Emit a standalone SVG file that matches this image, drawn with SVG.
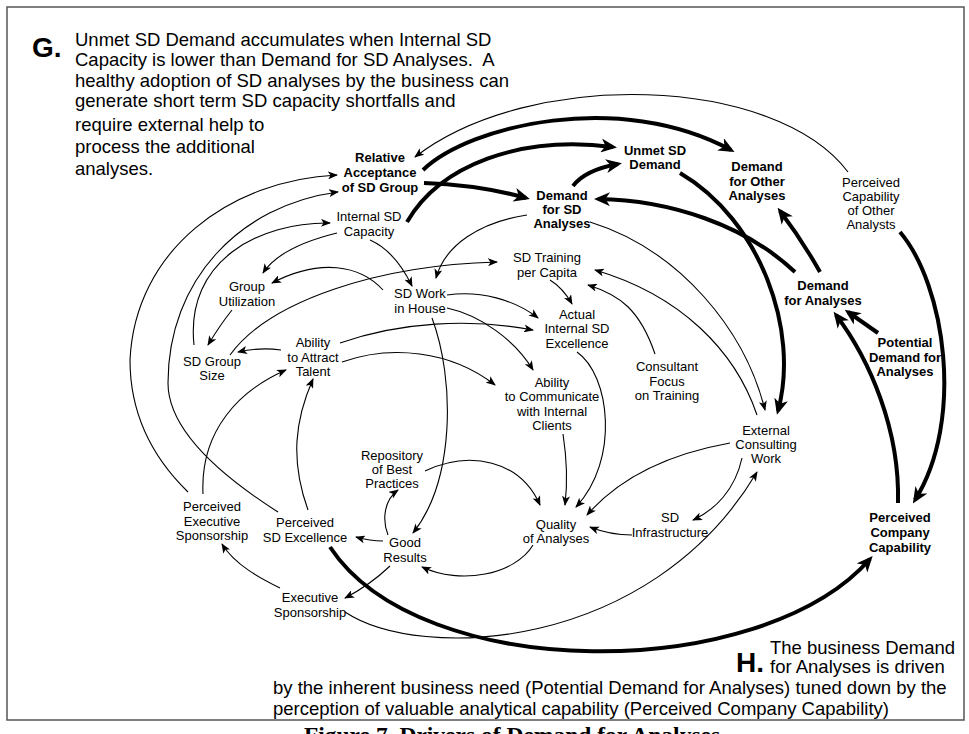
<svg xmlns="http://www.w3.org/2000/svg" width="969" height="734" viewBox="0 0 969 734">
  <defs>
    <style>
      .n { font-family: "Liberation Sans", Arial, sans-serif; font-size: 13px; fill: #000; text-anchor: middle; }
      .b { font-weight: bold; }
      .p { font-family: "Liberation Sans", Arial, sans-serif; font-size: 18.5px; fill: #000; }
      .big { font-family: "Liberation Sans", Arial, sans-serif; font-size: 28px; font-weight: bold; fill: #000; }
      .cap { font-family: "Liberation Serif", "Times New Roman", serif; font-size: 23.5px; font-weight: bold; fill: #000; text-anchor: middle; }
      .c { fill: none; stroke: #000; stroke-width: 1.1; marker-end: url(#ah); }
      .k { fill: none; stroke: #000; stroke-width: 4; marker-end: url(#AH); }
    </style>
    <marker id="ah" viewBox="0 0 10 8" refX="9" refY="4" markerWidth="10" markerHeight="8" markerUnits="userSpaceOnUse" orient="auto">
      <path d="M0,0 L10,4 L0,8 L2.5,4 z" fill="#000"/>
    </marker>
    <marker id="AH" viewBox="0 0 16 14" refX="12" refY="7" markerWidth="16" markerHeight="14" markerUnits="userSpaceOnUse" orient="auto">
      <path d="M0,0 L16,7 L0,14 L4.5,7 z" fill="#000"/>
    </marker>
  </defs>

  <rect x="0" y="0" width="969" height="734" fill="#fff"/>
  <!-- page frame -->
  <rect x="7" y="7" width="957" height="713" fill="none" stroke="#555" stroke-width="1.5"/>

  <!-- annotation G -->
  <g id="note-g">
    <text class="big" x="32" y="57">G.</text>
    <text class="p" x="75" y="46">Unmet SD Demand accumulates when Internal SD</text>
    <text class="p" x="75" y="66">Capacity is lower than Demand for SD Analyses.&#160; A</text>
    <text class="p" x="75" y="87">healthy adoption of SD analyses by the business can</text>
    <text class="p" x="75" y="107">generate short term SD capacity shortfalls and</text>
    <text class="p" x="75" y="131">require external help to</text>
    <text class="p" x="75" y="153">process the additional</text>
    <text class="p" x="75" y="175">analyses.</text>
  </g>

  <!-- annotation H -->
  <g id="note-h">
    <text class="big" x="736" y="672">H.</text>
    <text class="p" x="770" y="654">The business Demand</text>
    <text class="p" x="770" y="673">for Analyses is driven</text>
    <text class="p" x="273" y="694">by the inherent business need (Potential Demand for Analyses) tuned down by the</text>
    <text class="p" x="273" y="715">perception of valuable analytical capability (Perceived Company Capability)</text>
  </g>

  <text class="cap" x="512" y="743">Figure 7. Drivers of Demand for Analyses</text>

  <!-- causal links -->
  <g id="links">
    <!-- thin links -->
    <path class="c" d="M 848 172 C 775 75, 530 68, 415 157"/>
    <path class="c" d="M 188 492 C 150 455, 130 410, 130 360 C 135 250, 230 180, 337 175"/>
    <path class="c" d="M 278 512 C 220 475, 168 430, 168 383 C 168 280, 240 205, 338 192"/>
    <path class="c" d="M 194 345 C 185 260, 260 222, 330 223"/>
    <path class="c" d="M 337 233 Q 280 247 263 273"/>
    <path class="c" d="M 383 290 C 360 265, 320 258, 272 283"/>
    <path class="c" d="M 232 310 Q 220 325 208 345"/>
    <path class="c" d="M 370 240 Q 395 251 412 286"/>
    <path class="c" d="M 230 355 C 270 300, 380 265, 497 262"/>
    <path class="c" d="M 281 350 Q 260 347 238 352"/>
    <path class="c" d="M 340 343 C 400 322, 470 318, 533 330"/>
    <path class="c" d="M 342 362 C 390 345, 450 350, 495 385"/>
    <path class="c" d="M 447 295 C 480 290, 515 300, 538 318"/>
    <path class="c" d="M 447 308 C 480 315, 515 340, 533 370"/>
    <path class="c" d="M 432 318 C 455 380, 455 480, 413 533"/>
    <path class="c" d="M 550 280 Q 563 288 572 304"/>
    <path class="c" d="M 527 215 C 480 222, 445 245, 436 278"/>
    <path class="c" d="M 590 222 C 680 250, 745 330, 765 410"/>
    <path class="c" d="M 757 415 C 735 350, 680 295, 595 270"/>
    <path class="c" d="M 655 354 C 640 310, 620 295, 588 285"/>
    <path class="c" d="M 577 352 C 610 375, 620 460, 576 507"/>
    <path class="c" d="M 563 434 C 567 460, 568 480, 565 505"/>
    <path class="c" d="M 425 471 C 470 450, 520 460, 540 505"/>
    <path class="c" d="M 730 443 Q 635 460 587 515"/>
    <path class="c" d="M 632 535 Q 610 535 590 527"/>
    <path class="c" d="M 742 458 C 735 490, 715 510, 693 520"/>
    <path class="c" d="M 345 612 C 420 662, 650 652, 757 472"/>
    <path class="c" d="M 533 545 C 515 575, 460 585, 422 567"/>
    <path class="c" d="M 388 535 C 382 520, 384 500, 398 490"/>
    <path class="c" d="M 383 541 Q 370 541 356 537"/>
    <path class="c" d="M 390 566 Q 370 585 345 598"/>
    <path class="c" d="M 280 588 C 260 578, 235 565, 222 544"/>
    <path class="c" d="M 308 510 C 290 460, 295 420, 313 379"/>
    <path class="c" d="M 203 494 C 200 430, 240 390, 286 370"/>
    <!-- thick links -->
    <path class="k" d="M 423 170 C 470 125, 620 90, 731 150"/>
    <path class="k" d="M 407 222 C 440 165, 520 135, 613 147"/>
    <path class="k" d="M 424 183 Q 480 185 526 198"/>
    <path class="k" d="M 573 186 Q 585 170 618 164"/>
    <path class="k" d="M 795 272 C 745 225, 670 200, 598 199"/>
    <path class="k" d="M 820 272 Q 802 240 780 211"/>
    <path class="k" d="M 680 173 C 760 220, 800 330, 778 411"/>
    <path class="k" d="M 900 232 C 945 285, 965 420, 915 500"/>
    <path class="k" d="M 898 503 C 900 430, 870 360, 836 315"/>
    <path class="k" d="M 878 333 L 848 312"/>
    <path class="k" d="M 330 547 C 420 684, 760 684, 870 559"/>
  </g>

  <!-- variables -->
  <g id="relative-acceptance" class="n b"><text x="380" y="162">Relative</text><text x="380" y="177">Acceptance</text><text x="380" y="192">of SD Group</text></g>
  <g id="unmet-sd-demand" class="n b"><text x="655" y="155">Unmet SD</text><text x="655" y="169">Demand</text></g>
  <g id="demand-other" class="n b"><text x="757" y="171">Demand</text><text x="757" y="186">for Other</text><text x="757" y="200">Analyses</text></g>
  <g id="perceived-capability-other" class="n"><text x="871" y="187">Perceived</text><text x="871" y="201">Capability</text><text x="871" y="215">of Other</text><text x="871" y="229">Analysts</text></g>
  <g id="demand-sd" class="n b"><text x="562" y="200">Demand</text><text x="562" y="214">for SD</text><text x="562" y="228">Analyses</text></g>
  <g id="internal-capacity" class="n"><text x="369" y="221">Internal SD</text><text x="369" y="236">Capacity</text></g>
  <g id="demand-analyses" class="n b"><text x="823" y="290">Demand</text><text x="823" y="305">for Analyses</text></g>
  <g id="potential-demand" class="n b"><text x="905" y="347">Potential</text><text x="905" y="362">Demand for</text><text x="905" y="376">Analyses</text></g>
  <g id="group-utilization" class="n"><text x="247" y="291">Group</text><text x="247" y="306">Utilization</text></g>
  <g id="sd-work-in-house" class="n"><text x="420" y="298">SD Work</text><text x="420" y="313">in House</text></g>
  <g id="sd-training" class="n"><text x="547" y="262">SD Training</text><text x="547" y="277">per Capita</text></g>
  <g id="actual-excellence" class="n"><text x="577" y="319">Actual</text><text x="577" y="333">Internal SD</text><text x="577" y="348">Excellence</text></g>
  <g id="attract-talent" class="n"><text x="313" y="347">Ability</text><text x="313" y="362">to Attract</text><text x="313" y="376">Talent</text></g>
  <g id="group-size" class="n"><text x="212" y="366">SD Group</text><text x="212" y="380">Size</text></g>
  <g id="communicate" class="n"><text x="552" y="387">Ability</text><text x="552" y="401">to Communicate</text><text x="552" y="416">with Internal</text><text x="552" y="430">Clients</text></g>
  <g id="consultant-focus" class="n"><text x="667" y="371">Consultant</text><text x="667" y="386">Focus</text><text x="667" y="400">on Training</text></g>
  <g id="external-work" class="n"><text x="766" y="435">External</text><text x="766" y="449">Consulting</text><text x="766" y="463">Work</text></g>
  <g id="repository" class="n"><text x="392" y="460">Repository</text><text x="392" y="474">of Best</text><text x="392" y="488">Practices</text></g>
  <g id="perceived-exec" class="n"><text x="212" y="511">Perceived</text><text x="212" y="526">Executive</text><text x="212" y="540">Sponsorship</text></g>
  <g id="perceived-excellence" class="n"><text x="305" y="527">Perceived</text><text x="305" y="542">SD Excellence</text></g>
  <g id="good-results" class="n"><text x="405" y="547">Good</text><text x="405" y="562">Results</text></g>
  <g id="quality" class="n"><text x="556" y="529">Quality</text><text x="556" y="543">of Analyses</text></g>
  <g id="infrastructure" class="n"><text x="670" y="522">SD</text><text x="670" y="537">Infrastructure</text></g>
  <g id="company-capability" class="n b"><text x="900" y="522">Perceived</text><text x="900" y="537">Company</text><text x="900" y="552">Capability</text></g>
  <g id="exec-sponsorship" class="n"><text x="310" y="602">Executive</text><text x="310" y="617">Sponsorship</text></g>
</svg>
